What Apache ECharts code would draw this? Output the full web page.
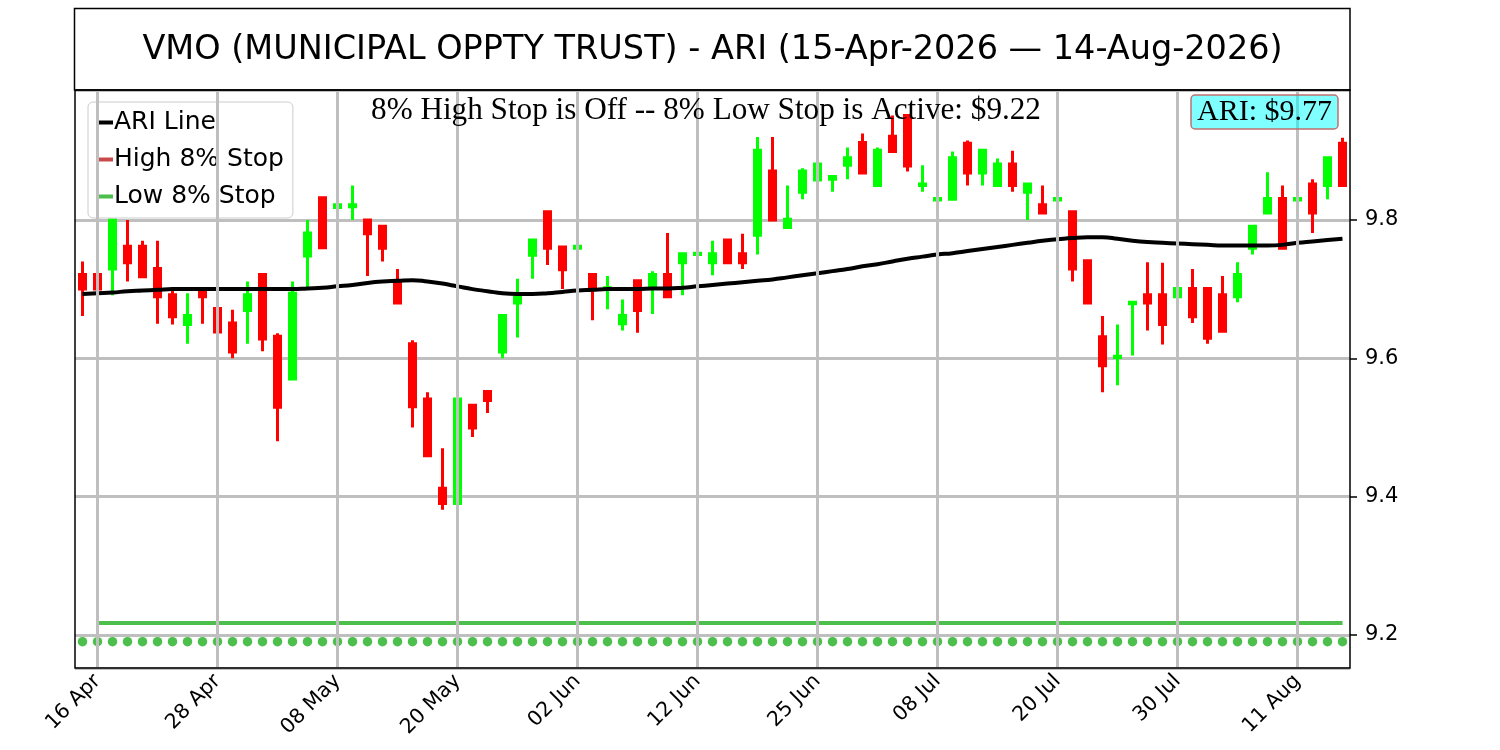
<!DOCTYPE html>
<html>
<head>
<meta charset="utf-8">
<script src="https://cdn.jsdelivr.net/npm/echarts@6/dist/echarts.min.js"></script>
<style>
  html, body { margin: 0; padding: 0; background: #fff; }
  #chart { width: 1500px; height: 750px; }
</style>
</head>
<body>
<div id="chart"></div>
<script>
const dates = [
    '15 Apr', '16 Apr', '17 Apr', '20 Apr', '21 Apr', '22 Apr', '23 Apr', '24 Apr', '27 Apr', '28 Apr', '29 Apr', '30 Apr',
    '01 May', '04 May', '05 May', '06 May', '07 May', '08 May', '11 May', '12 May', '13 May', '14 May', '15 May', '18 May',
    '19 May', '20 May', '21 May', '22 May', '26 May', '27 May', '28 May', '29 May',
    '01 Jun', '02 Jun', '03 Jun', '04 Jun', '05 Jun', '08 Jun', '09 Jun', '10 Jun', '11 Jun', '12 Jun', '15 Jun', '16 Jun',
    '17 Jun', '18 Jun', '22 Jun', '23 Jun', '24 Jun', '25 Jun', '26 Jun', '29 Jun', '30 Jun',
    '01 Jul', '02 Jul', '06 Jul', '07 Jul', '08 Jul', '09 Jul', '10 Jul', '13 Jul', '14 Jul', '15 Jul', '16 Jul', '17 Jul',
    '20 Jul', '21 Jul', '22 Jul', '23 Jul', '24 Jul', '27 Jul', '28 Jul', '29 Jul', '30 Jul', '31 Jul',
    '03 Aug', '04 Aug', '05 Aug', '06 Aug', '07 Aug', '10 Aug', '11 Aug', '12 Aug', '13 Aug', '14 Aug'
];
const tickLabels = ['16 Apr', '28 Apr', '08 May', '20 May', '02 Jun', '12 Jun', '25 Jun', '08 Jul', '20 Jul', '30 Jul', '11 Aug'];

const opens = [
    9.721, 9.721, 9.729, 9.762, 9.762, 9.730, 9.692, 9.649, 9.700, 9.672,
    9.651, 9.669, 9.721, 9.632, 9.570, 9.748, 9.832, 9.818, 9.819, 9.800,
    9.791, 9.709, 9.621, 9.541, 9.412, 9.390, 9.532, 9.552, 9.609, 9.680,
    9.749, 9.812, 9.761, 9.759, 9.721, 9.700, 9.650, 9.712, 9.704, 9.721,
    9.738, 9.750, 9.738, 9.771, 9.751, 9.778, 9.871, 9.789, 9.840, 9.858,
    9.859, 9.879, 9.912, 9.850, 9.921, 9.951, 9.850, 9.829, 9.830, 9.911,
    9.868, 9.850, 9.881, 9.840, 9.822, 9.829, 9.812, 9.741, 9.631, 9.601,
    9.679, 9.692, 9.692, 9.689, 9.701, 9.701, 9.692, 9.689, 9.759, 9.810,
    9.831, 9.829, 9.852, 9.850, 9.911
];
const highs = [
    9.740, 9.728, 9.802, 9.800, 9.770, 9.770, 9.700, 9.694, 9.700, 9.680,
    9.670, 9.711, 9.721, 9.636, 9.711, 9.800, 9.832, 9.840, 9.850, 9.800,
    9.791, 9.729, 9.626, 9.551, 9.470, 9.551, 9.532, 9.552, 9.662, 9.715,
    9.771, 9.812, 9.761, 9.762, 9.721, 9.719, 9.685, 9.712, 9.726, 9.781,
    9.751, 9.780, 9.770, 9.771, 9.780, 9.920, 9.920, 9.850, 9.875, 9.915,
    9.865, 9.905, 9.925, 9.905, 9.951, 9.951, 9.879, 9.850, 9.899, 9.915,
    9.901, 9.889, 9.900, 9.852, 9.850, 9.841, 9.812, 9.741, 9.661, 9.649,
    9.681, 9.739, 9.738, 9.739, 9.729, 9.701, 9.719, 9.739, 9.791, 9.869,
    9.850, 9.841, 9.859, 9.890, 9.919
];
const lows = [
    9.661, 9.686, 9.691, 9.711, 9.718, 9.650, 9.649, 9.621, 9.650, 9.637,
    9.600, 9.621, 9.610, 9.480, 9.570, 9.700, 9.760, 9.750, 9.800, 9.719,
    9.740, 9.680, 9.500, 9.459, 9.381, 9.371, 9.486, 9.521, 9.600, 9.630,
    9.715, 9.735, 9.700, 9.691, 9.655, 9.671, 9.640, 9.637, 9.664, 9.689,
    9.691, 9.681, 9.720, 9.738, 9.729, 9.750, 9.800, 9.789, 9.830, 9.858,
    9.841, 9.859, 9.868, 9.850, 9.899, 9.870, 9.841, 9.829, 9.830, 9.850,
    9.850, 9.850, 9.841, 9.800, 9.810, 9.801, 9.711, 9.680, 9.551, 9.561,
    9.604, 9.640, 9.620, 9.581, 9.651, 9.621, 9.639, 9.681, 9.750, 9.810,
    9.759, 9.781, 9.781, 9.830, 9.850
];
const closes = [
    9.700, 9.700, 9.800, 9.738, 9.718, 9.689, 9.660, 9.662, 9.689, 9.638,
    9.609, 9.692, 9.628, 9.529, 9.694, 9.781, 9.760, 9.822, 9.822, 9.780,
    9.759, 9.680, 9.530, 9.459, 9.390, 9.541, 9.499, 9.539, 9.662, 9.689,
    9.771, 9.759, 9.728, 9.762, 9.703, 9.702, 9.662, 9.669, 9.721, 9.689,
    9.751, 9.752, 9.751, 9.738, 9.738, 9.901, 9.800, 9.801, 9.871, 9.881,
    9.863, 9.890, 9.868, 9.901, 9.899, 9.878, 9.852, 9.831, 9.890, 9.868,
    9.901, 9.881, 9.850, 9.852, 9.810, 9.831, 9.729, 9.680, 9.589, 9.603,
    9.681, 9.680, 9.649, 9.701, 9.660, 9.629, 9.639, 9.721, 9.791, 9.831,
    9.759, 9.831, 9.810, 9.890, 9.850
];
const ariLine = [
    9.693, 9.694, 9.695, 9.697, 9.698, 9.699, 9.700, 9.700, 9.700, 9.700,
    9.700, 9.700, 9.700, 9.700, 9.700, 9.701, 9.702, 9.704, 9.706, 9.709,
    9.711, 9.712, 9.713, 9.711, 9.708, 9.704, 9.700, 9.697, 9.694, 9.693,
    9.693, 9.694, 9.696, 9.698, 9.699, 9.700, 9.700, 9.700, 9.701, 9.701,
    9.702, 9.704, 9.706, 9.708, 9.710, 9.712, 9.714, 9.717, 9.720, 9.723,
    9.726, 9.729, 9.733, 9.736, 9.740, 9.744, 9.747, 9.750, 9.752, 9.755,
    9.758, 9.761, 9.764, 9.767, 9.770, 9.772, 9.774, 9.775, 9.775, 9.773,
    9.770, 9.768, 9.767, 9.766, 9.765, 9.764, 9.763, 9.763, 9.763, 9.763,
    9.764, 9.767, 9.769, 9.771, 9.773
];
const lowStopLevel = 9.217;
const stopDotLevel = 9.19;

const titleText = 'VMO (MUNICIPAL OPPTY TRUST) - ARI (15-Apr-2026 \u2014 14-Aug-2026)';
const statusText = '8% High Stop is Off -- 8% Low Stop is Active: $9.22';
const ariText = 'ARI: $9.77';

const SANS = 'DejaVu Sans';
const SERIF = 'Liberation Serif';
const GRID_GRAY = '#bfbfbf';
const STOP_GREEN = '#4cbf4c';
const STOP_RED = '#c94a4a';

const chart = echarts.init(document.getElementById('chart'));

const candles = dates.map((d, i) => [opens[i], closes[i], lows[i], highs[i]]);
const showTick = (idx, val) => tickLabels.includes(val);

const option = {
    animation: false,
    grid: { left: 75, right: 150, top: 90, bottom: 82, show: false },
    legend: {
        data: ['ARI Line', 'High 8% Stop', 'Low 8% Stop'],
        orient: 'vertical',
        left: 88,
        top: 102,
        padding: [8, 9, 9, 9],
        itemGap: 12,
        itemWidth: 16,
        itemHeight: 4,
        icon: 'rect',
        selectedMode: false,
        backgroundColor: 'rgba(255,255,255,0.8)',
        borderColor: '#cccccc',
        borderWidth: 1,
        borderRadius: 5,
        textStyle: { fontFamily: SANS, fontSize: 25, color: '#000', lineHeight: 25, padding: [0, 0, 0, -4] }
    },
    xAxis: {
        type: 'category',
        data: dates,
        boundaryGap: true,
        axisLine: { show: false },
        axisTick: { alignWithLabel: true, interval: showTick, length: 7, lineStyle: { color: '#000', width: 1.5 } },
        axisLabel: {
            interval: showTick, rotate: 45, margin: 10,
            fontFamily: SANS, fontSize: 20.5, color: '#000'
        },
        splitLine: { show: false }
    },
    yAxis: {
        type: 'value',
        position: 'right',
        min: 9.152,
        max: 9.988,
        scale: true,
        axisLine: { show: false },
        axisTick: { show: true, length: 7, lineStyle: { color: '#000', width: 1.5 } },
        axisLabel: {
            margin: 15, showMinLabel: false, showMaxLabel: false,
            fontFamily: SANS, fontSize: 21, color: '#000',
            formatter: v => v.toFixed(1)
        },
        splitLine: { show: true, lineStyle: { color: GRID_GRAY, width: 3 } }
    },
    series: [
        {
            name: 'Candles',
            type: 'candlestick',
            data: candles,
            barWidth: 7,
            itemStyle: {
                color: '#00ff00', color0: '#ff0000',
                borderColor: '#00ff00', borderColor0: '#ff0000',
                borderWidth: 3
            },
            markLine: {
                silent: true,
                symbol: ['none', 'none'],
                label: { show: false },
                lineStyle: { color: GRID_GRAY, width: 3, type: 'solid', opacity: 1 },
                emphasis: { disabled: true },
                data: tickLabels.map(t => ({ xAxis: t }))
            }
        },
        {
            name: 'ARI Line',
            type: 'line',
            data: ariLine,
            smooth: true,
            showSymbol: false,
            lineStyle: { color: '#000', width: 4 },
            itemStyle: { color: '#000' },
            z: 3
        },
        {
            name: 'High 8% Stop',
            type: 'line',
            data: [],
            lineStyle: { color: STOP_RED, width: 4 },
            itemStyle: { color: STOP_RED }
        },
        {
            name: 'Low 8% Stop',
            type: 'line',
            data: [[dates[1], lowStopLevel], [dates[dates.length - 1], lowStopLevel]],
            showSymbol: false,
            lineStyle: { color: STOP_GREEN, width: 4 },
            itemStyle: { color: STOP_GREEN }
        },
        {
            name: 'Stop Dots',
            type: 'scatter',
            data: dates.map(d => [d, stopDotLevel]),
            symbolSize: 9.5,
            itemStyle: { color: STOP_GREEN, opacity: 1 }
        }
    ],
    graphic: [
        {
            type: 'rect', z: 100, silent: true,
            shape: { x: 74.5, y: 8.5, width: 1275.5, height: 81.5 },
            style: { fill: 'none', stroke: '#000', lineWidth: 1.5 }
        },
        {
            type: 'rect', z: 100, silent: true,
            shape: { x: 75, y: 90, width: 1275, height: 578 },
            style: { fill: 'none', stroke: '#000', lineWidth: 1.5 }
        },
        {
            type: 'text', z: 100, silent: true,
            style: {
                text: titleText, x: 712.5, y: 50, align: 'center', verticalAlign: 'middle',
                fontFamily: SANS, fontSize: 33.5, fill: '#000'
            }
        },
        {
            type: 'text', z: 100, silent: true,
            style: {
                text: statusText, x: 706, y: 111, align: 'center', verticalAlign: 'middle',
                fontFamily: SERIF, fontSize: 31.2, fill: '#000'
            }
        },
        {
            type: 'rect', z: 100, silent: true,
            shape: { x: 1191, y: 95, width: 147, height: 34, r: 4 },
            style: { fill: 'rgba(0,255,255,0.5)', stroke: '#c07070', lineWidth: 1.5 }
        },
        {
            type: 'text', z: 101, silent: true,
            style: {
                text: ariText, x: 1264.5, y: 112, align: 'center', verticalAlign: 'middle',
                fontFamily: SERIF, fontSize: 30, fill: '#000'
            }
        }
    ]
};

chart.setOption(option);
window.addEventListener('resize', () => chart.resize());
</script>
</body>
</html>
